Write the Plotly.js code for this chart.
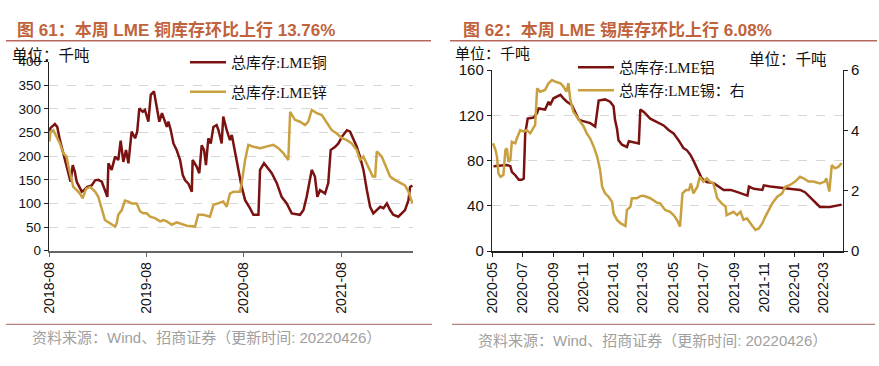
<!DOCTYPE html>
<html><head><meta charset="utf-8">
<script src="https://cdn.plot.ly/plotly-3.0.1.min.js"></script>
<style>html,body{margin:0;padding:0;background:#fff}#chart{width:879px;height:366px}</style>
</head><body><div id="chart"></div>
<script>
// ---- Left chart: LME copper & zinc total stocks (kt) ----
const cuDates = ['2018-08-02','2018-08-07','2018-08-23','2018-09-01','2018-09-11','2018-09-21','2018-09-30','2018-10-12','2018-10-21','2018-10-29','2018-11-06','2018-11-13','2018-11-23','2018-12-02','2018-12-10','2018-12-23','2019-01-08','2019-01-21','2019-02-02','2019-02-15','2019-02-27','2019-03-08','2019-03-12','2019-03-24','2019-04-06','2019-04-18','2019-04-27','2019-05-07','2019-05-17','2019-05-26','2019-06-07','2019-06-20','2019-06-28','2019-07-06','2019-07-19','2019-07-27','2019-08-09','2019-08-18','2019-08-30','2019-09-09','2019-09-19','2019-09-29','2019-10-07','2019-10-17','2019-10-23','2019-11-01','2019-11-11','2019-11-23','2019-12-06','2019-12-16','2019-12-25','2020-01-06','2020-01-19','2020-01-22','2020-02-06','2020-02-16','2020-02-25','2020-03-05','2020-03-12','2020-03-21','2020-03-30','2020-04-09','2020-04-21','2020-04-28','2020-05-10','2020-05-16','2020-05-29','2020-06-10','2020-06-17','2020-06-29','2020-07-12','2020-07-24','2020-08-06','2020-08-24','2020-09-06','2020-09-25','2020-10-01','2020-10-16','2020-10-26','2020-11-14','2020-12-03','2020-12-21','2021-01-09','2021-01-28','2021-02-28','2021-03-13','2021-03-25','2021-04-13','2021-04-25','2021-05-04','2021-05-14','2021-06-02','2021-06-14','2021-06-23','2021-07-10','2021-07-22','2021-08-04','2021-08-23','2021-09-04','2021-09-16','2021-09-29','2021-10-11','2021-10-24','2021-11-06','2021-11-18','2021-11-30','2021-12-13','2021-12-26','2022-01-07','2022-01-20','2022-02-01','2022-02-13','2022-03-04','2022-03-17','2022-03-29','2022-04-11','2022-04-17','2022-04-26'];
const cuStock = [252,260,268,262,234,213,192,164,146,181,167,146,135,125,128,135,138,149,150,146,128,114,185,171,199,192,233,188,213,185,252,238,252,301,294,298,273,330,337,308,273,291,277,262,273,255,227,213,192,160,149,142,125,192,178,164,223,213,181,238,227,262,266,255,227,284,255,234,245,206,171,135,107,90,76,76,171,185,178,164,143,114,100,79,76,86,114,171,157,114,128,121,143,213,220,227,241,255,252,238,220,199,171,128,93,79,86,93,90,100,86,76,72,79,86,107,135,138];

const znDates = ['2018-08-02','2018-08-07','2018-08-17','2018-08-30','2018-09-11','2018-09-24','2018-10-06','2018-10-12','2018-10-21','2018-10-31','2018-11-13','2018-11-25','2018-12-05','2018-12-18','2019-01-02','2019-01-21','2019-02-02','2019-02-15','2019-02-27','2019-03-18','2019-04-06','2019-04-12','2019-04-18','2019-05-01','2019-05-13','2019-05-26','2019-06-07','2019-06-26','2019-07-09','2019-07-21','2019-08-03','2019-08-15','2019-09-03','2019-09-22','2019-10-04','2019-10-17','2019-11-05','2019-11-23','2019-12-12','2019-12-31','2020-01-31','2020-02-12','2020-03-02','2020-03-27','2020-04-09','2020-04-28','2020-05-16','2020-05-29','2020-06-10','2020-06-23','2020-07-18','2020-07-24','2020-08-06','2020-08-18','2020-09-06','2020-10-01','2020-10-26','2020-11-20','2020-12-09','2020-12-28','2021-01-15','2021-01-22','2021-02-09','2021-02-28','2021-03-19','2021-03-31','2021-04-13','2021-05-02','2021-05-21','2021-06-08','2021-06-27','2021-07-16','2021-08-04','2021-08-23','2021-09-10','2021-09-29','2021-10-11','2021-10-24','2021-11-12','2021-11-28','2021-12-07','2021-12-13','2022-01-01','2022-01-20','2022-02-01','2022-02-19','2022-03-11','2022-03-29','2022-04-11','2022-04-23','2022-04-26'];
const znStock = [231,252,255,241,227,206,199,181,157,135,128,121,111,131,135,125,114,90,65,58,51,58,76,86,106,104,100,100,83,79,79,72,69,62,65,62,55,60,57,53,51,76,76,72,97,100,104,93,121,125,125,143,192,224,220,217,220,224,217,206,192,294,277,273,266,273,298,291,287,270,255,248,238,234,227,213,192,199,178,157,157,210,199,171,157,150,143,138,125,104,100];

const leftTicks = ['2018-08-01','2019-08-01','2020-08-01','2021-08-01'];
const leftTickText = ['2018-08','2019-08','2020-08','2021-08'];

// ---- Right chart: LME aluminium (kt, left) & tin (kt, right) ----
const alDates = ['2020-05-04','2020-05-31','2020-06-07','2020-06-10','2020-06-17','2020-06-24','2020-06-30','2020-07-04','2020-07-07','2020-07-12','2020-07-24','2020-07-31','2020-08-03','2020-08-16','2020-08-23','2020-08-26','2020-09-02','2020-09-16','2020-09-22','2020-09-29','2020-10-09','2020-10-16','2020-10-23','2020-10-30','2020-11-15','2020-11-25','2020-12-02','2020-12-15','2020-12-25','2021-01-01','2021-01-04','2021-01-08','2021-01-11','2021-01-18','2021-01-28','2021-02-01','2021-02-11','2021-02-21','2021-02-24','2021-03-03','2021-03-16','2021-03-30','2021-04-12','2021-04-22','2021-05-02','2021-05-12','2021-05-22','2021-05-29','2021-06-05','2021-06-11','2021-06-15','2021-06-22','2021-06-28','2021-07-08','2021-07-22','2021-08-11','2021-08-25','2021-09-08','2021-09-28','2021-10-01','2021-10-11','2021-10-28','2021-10-31','2021-11-13','2021-12-03','2021-12-23','2022-01-12','2022-01-22','2022-02-01','2022-02-14','2022-02-21','2022-03-13','2022-04-06'];
const alStock = [75,76,75,70,67,63,63,64,104,117,118,122,126,125,132,129,135,138,135,132,129,123,116,115,113,110,133,134,132,128,116,108,98,94,92,97,96,95,125,123,117,114,111,107,104,98,91,89,85,80,76,69,64,61,60,54,54,52,49,57,55,54,58,57,56,55,54,52,48,42,39,39,41];

const snDates = ['2020-05-03','2020-05-08','2020-05-11','2020-05-14','2020-05-18','2020-05-24','2020-05-28','2020-05-31','2020-06-03','2020-06-07','2020-06-10','2020-06-17','2020-06-20','2020-06-27','2020-07-04','2020-07-10','2020-07-17','2020-07-27','2020-07-31','2020-08-06','2020-08-16','2020-08-23','2020-08-30','2020-09-06','2020-09-16','2020-09-22','2020-09-28','2020-10-02','2020-10-06','2020-10-12','2020-10-19','2020-10-26','2020-11-02','2020-11-08','2020-11-15','2020-11-22','2020-11-29','2020-12-05','2020-12-09','2020-12-15','2020-12-22','2020-12-29','2021-01-01','2021-01-08','2021-01-15','2021-01-25','2021-01-28','2021-02-04','2021-02-07','2021-02-17','2021-02-24','2021-03-03','2021-03-16','2021-03-30','2021-04-05','2021-04-15','2021-04-25','2021-05-02','2021-05-09','2021-05-15','2021-05-20','2021-05-27','2021-06-02','2021-06-06','2021-06-11','2021-06-19','2021-06-24','2021-07-01','2021-07-08','2021-07-14','2021-07-21','2021-07-25','2021-07-29','2021-08-07','2021-08-15','2021-08-17','2021-08-24','2021-08-31','2021-09-07','2021-09-14','2021-09-20','2021-09-27','2021-10-04','2021-10-14','2021-10-21','2021-10-28','2021-11-03','2021-11-10','2021-11-17','2021-11-27','2021-12-07','2021-12-13','2021-12-23','2022-01-02','2022-01-12','2022-01-19','2022-01-29','2022-02-08','2022-02-21','2022-03-03','2022-03-06','2022-03-12','2022-03-17','2022-03-23','2022-03-30','2022-04-06'];
const snStock = [3.57,3.35,3.13,2.57,2.46,2.52,3.35,3.40,2.96,3.02,3.62,3.57,3.73,4.01,3.96,4.01,3.90,4.18,5.39,5.28,5.34,5.56,5.67,5.61,5.56,5.45,5.28,5.56,5.00,4.62,4.45,4.29,4.12,3.90,3.73,3.46,3.13,2.68,2.13,1.91,1.80,1.63,1.25,1.03,0.92,0.83,1.36,1.47,1.75,1.75,1.82,1.83,1.75,1.60,1.58,1.36,1.30,1.19,1.03,0.81,1.91,2.02,2.02,2.24,1.91,2.13,2.46,2.30,2.41,2.30,2.24,2.02,1.75,1.58,1.47,1.19,1.25,1.30,1.19,1.30,1.03,1.08,0.92,0.70,0.75,0.92,1.14,1.36,1.58,1.80,1.91,2.13,2.19,2.30,2.46,2.41,2.30,2.30,2.24,2.30,2.41,1.97,2.85,2.74,2.79,2.91];

const rightTicks = ['2020-05-01','2020-07-01','2020-09-01','2020-11-01','2021-01-01','2021-03-01','2021-05-01','2021-07-01','2021-09-01','2021-11-01','2022-01-01','2022-03-01'];
const rightTickText = ['2020-05','2020-07','2020-09','2020-11','2021-01','2021-03','2021-05','2021-07','2021-09','2021-11','2022-01','2022-03'];

const titleLeft = '图 61：本周 LME 铜库存环比上行 13.76%';
const titleRight = '图 62：本周 LME 锡库存环比上行 6.08%';
const unitText = '单位：千吨';
const sourceText = '资料来源：Wind、招商证券（更新时间: 20220426）';

// ---- styling ----
const W = 879, H = 366;
const RED = '#7a1212', GOLD = '#c9a040';
const px = v => v / W, py = v => 1 - v / H;
const SANS = 'Liberation Sans, Arial, sans-serif';
const CJK = 'Liberation Sans, Noto Sans CJK SC, sans-serif';
const LEG = 'Liberation Serif, Noto Sans CJK SC, serif';

const traces = [
  {x: cuDates, y: cuStock, name: '总库存:LME铜', type: 'scatter', mode: 'lines', xaxis: 'x', yaxis: 'y',
   line: {color: RED, width: 2.5}, legend: 'legend', legendgroup: 'a'},
  {x: znDates, y: znStock, name: '总库存:LME锌', type: 'scatter', mode: 'lines', xaxis: 'x', yaxis: 'y',
   line: {color: GOLD, width: 2.5}, legend: 'legend', legendgroup: 'b'},
  {x: alDates, y: alStock, name: '总库存:LME铝', type: 'scatter', mode: 'lines', xaxis: 'x2', yaxis: 'y2',
   line: {color: RED, width: 2.5}, legend: 'legend2', legendgroup: 'c'},
  {x: snDates, y: snStock, name: '总库存:LME锡：右', type: 'scatter', mode: 'lines', xaxis: 'x2', yaxis: 'y3',
   line: {color: GOLD, width: 2.5}, legend: 'legend2', legendgroup: 'd'}
];

const xCommon = {type: 'date', tickangle: -90, showline: true, linewidth: 1.5, ticks: 'outside', ticklen: 4,
  showgrid: false, zeroline: false, tickfont: {family: SANS, size: 14, color: '#111'}, fixedrange: true};
const yCommon = {showline: true, linecolor: '#222', linewidth: 1.2, ticks: 'outside', ticklen: 4, tickcolor: '#222',
  showgrid: true, gridcolor: '#d6d6d6', griddash: 'dash', gridwidth: 1, zeroline: false,
  tickfont: {family: SANS, size: 14, color: '#111'}, fixedrange: true};

const layout = {
  width: W, height: H, margin: {l: 0, r: 0, t: 0, b: 0},
  paper_bgcolor: '#fff', plot_bgcolor: 'rgba(0,0,0,0)', showlegend: true,
  xaxis: Object.assign({}, xCommon, {domain: [px(49), px(413)], anchor: 'y', range: ['2018-08-01', '2022-04-28'],
    tickvals: leftTicks, ticktext: leftTickText, linecolor: '#666', tickcolor: '#666', linewidth: 2}),
  yaxis: Object.assign({}, yCommon, {domain: [py(250.7), py(61.7)], anchor: 'x', range: [0, 400], dtick: 50,
    tickfont: {family: SANS, size: 13.5, color: '#111'}}),
  xaxis2: Object.assign({}, xCommon, {domain: [px(492), px(842.7)], anchor: 'y2', range: ['2020-05-01', '2022-04-08'],
    tickvals: rightTicks, ticktext: rightTickText, linecolor: '#222', tickcolor: '#222'}),
  yaxis2: Object.assign({}, yCommon, {domain: [py(251), py(70)], anchor: 'x2', range: [0, 160], dtick: 40,
    tickfont: {family: SANS, size: 15, color: '#111'}}),
  yaxis3: Object.assign({}, yCommon, {overlaying: 'y2', side: 'right', anchor: 'x2', range: [0, 6], dtick: 2,
    showgrid: false, tickfont: {family: SANS, size: 15, color: '#111'}}),
  legend: {x: px(185), y: py(46), xanchor: 'left', yanchor: 'top', bgcolor: 'rgba(0,0,0,0)', borderwidth: 0,
    itemwidth: 36, traceorder: 'grouped', tracegroupgap: 7, font: {family: LEG, size: 15, color: '#111'}},
  legend2: {x: px(573), y: py(51), xanchor: 'left', yanchor: 'top', bgcolor: 'rgba(0,0,0,0)', borderwidth: 0,
    itemwidth: 36, traceorder: 'grouped', tracegroupgap: 0.5, font: {family: LEG, size: 15, color: '#111'}},
  shapes: [
    {type: 'line', xref: 'paper', yref: 'paper', x0: px(6), x1: px(431), y0: py(40.7), y1: py(40.7), line: {color: '#b8675e', width: 1.5}},
    {type: 'line', xref: 'paper', yref: 'paper', x0: px(450), x1: px(877), y0: py(40.7), y1: py(40.7), line: {color: '#b8675e', width: 1.5}},
    {type: 'line', xref: 'paper', yref: 'paper', x0: px(6), x1: px(432), y0: py(324.3), y1: py(324.3), line: {color: '#b88080', width: 1.2}},
    {type: 'line', xref: 'paper', yref: 'paper', x0: px(452), x1: px(875), y0: py(324.3), y1: py(324.3), line: {color: '#b88080', width: 1.2}}
  ],
  annotations: [
    {text: '<b>' + titleLeft + '</b>', xref: 'paper', yref: 'paper', x: px(15), y: py(30), xanchor: 'left', yanchor: 'middle',
     showarrow: false, font: {family: CJK, size: 17, color: '#c0633c'}},
    {text: '<b>' + titleRight + '</b>', xref: 'paper', yref: 'paper', x: px(461), y: py(30), xanchor: 'left', yanchor: 'middle',
     showarrow: false, font: {family: CJK, size: 17, color: '#c0633c'}},
    {text: unitText, xref: 'paper', yref: 'paper', x: px(10), y: py(55), xanchor: 'left', yanchor: 'middle',
     showarrow: false, font: {family: LEG, size: 15.5, color: '#111'}},
    {text: unitText, xref: 'paper', yref: 'paper', x: px(453), y: py(54), xanchor: 'left', yanchor: 'middle',
     showarrow: false, font: {family: LEG, size: 15, color: '#111'}},
    {text: unitText, xref: 'paper', yref: 'paper', x: px(747), y: py(60), xanchor: 'left', yanchor: 'middle',
     showarrow: false, font: {family: LEG, size: 15.5, color: '#111'}},
    {text: sourceText, xref: 'paper', yref: 'paper', x: px(30), y: py(337), xanchor: 'left', yanchor: 'middle',
     showarrow: false, font: {family: CJK, size: 15, color: '#a0a0a0'}},
    {text: sourceText, xref: 'paper', yref: 'paper', x: px(476), y: py(340), xanchor: 'left', yanchor: 'middle',
     showarrow: false, font: {family: CJK, size: 15, color: '#a0a0a0'}}
  ]
};

Plotly.newPlot('chart', traces, layout, {displayModeBar: false, staticPlot: true});
</script>
</body></html>
